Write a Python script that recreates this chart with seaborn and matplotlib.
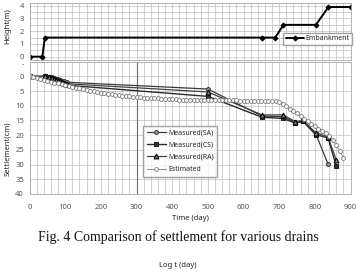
import numpy as np
import pandas as pd
import matplotlib
matplotlib.use("Agg")
import matplotlib.pyplot as plt
import seaborn as sns
from matplotlib.ticker import MultipleLocator, FixedLocator

sns.set_theme(style="white")
plt.rcParams['font.family'] = ['Noto Sans', 'DejaVu Sans']

# --- data ---
emb_days = [0, 36, 43, 652, 689, 712, 803, 838, 900]
emb_height = [0, 0, 1.5, 1.5, 1.5, 2.5, 2.5, 3.9, 3.9]

sa_days = [0, 43, 55, 62, 68, 74, 80, 86, 92, 98, 105, 500, 652, 711, 745, 767, 802, 837]
sa_settle = [0, 0, 0.1, 0.3, 0.5, 0.8, 1.0, 1.3, 1.5, 1.7, 2.0, 4.3, 13.5, 13.7, 15.6, 15.2, 19.4, 29.8]

m_days = [0, 43, 55, 62, 68, 74, 80, 86, 92, 98, 105, 500, 652, 711, 745, 767, 802, 837, 860]
cs_settle = [0, 0, 0.3, 0.6, 0.9, 1.3, 1.6, 2.0, 2.3, 2.6, 3.0, 6.8, 13.9, 14.3, 15.9, 15.3, 19.8, 20.9, 30.5]
ra_settle = [0, 0, 0.2, 0.5, 0.8, 1.1, 1.4, 1.7, 2.0, 2.3, 2.5, 5.3, 13.1, 13.1, 15.4, 15.0, 19.1, 20.6, 28.4]

est_days = [0, 10, 20, 30, 40, 50, 60, 70, 80, 90,
            100, 110, 120, 130, 140, 150, 160, 170, 180, 190,
            200, 210, 220, 230, 240, 250, 260, 270, 280, 290,
            300, 310, 320, 330, 340, 350, 360, 370, 380, 390,
            400, 410, 420, 430, 440, 450, 460, 470, 480, 490,
            500, 510, 520, 530, 540, 550, 560, 570, 580, 590,
            600, 610, 620, 630, 640, 650, 660, 670, 680, 690,
            700, 710, 720, 730, 740, 750, 760, 770, 780, 790,
            800, 810, 820, 830, 840, 850, 860, 870, 880]
est_settle = [0.0, 0.3, 0.6, 0.9, 1.2, 1.5, 1.8, 2.1, 2.4, 2.7,
              2.9, 3.2, 3.5, 3.8, 4.1, 4.4, 4.7, 4.9, 5.1, 5.3,
              5.5, 5.7, 5.9, 6.1, 6.3, 6.4, 6.6, 6.7, 6.8, 6.9,
              7.0, 7.1, 7.2, 7.3, 7.4, 7.5, 7.5, 7.6, 7.7, 7.7,
              7.8, 7.8, 7.9, 7.9, 7.9, 8.0, 8.0, 8.0, 8.1, 8.1,
              8.1, 8.1, 8.2, 8.2, 8.2, 8.2, 8.2, 8.2, 8.2, 8.3,
              8.3, 8.3, 8.3, 8.3, 8.3, 8.3, 8.3, 8.4, 8.4, 8.5,
              8.8, 9.4, 10.2, 11.0, 11.8, 12.6, 13.5, 14.4, 15.3, 16.1,
              17.0, 17.8, 18.6, 19.4, 20.2, 21.5, 23.3, 25.4, 27.6]

TICK_COLOR = '#555555'
GRID_COLOR = '#bdbdbd'

fig = plt.figure(figsize=(3.56, 2.79), dpi=100)
ax_top = fig.add_axes([0.0829, 0.7832, 0.9017, 0.2053])
ax_bot = fig.add_axes([0.0829, 0.3047, 0.9017, 0.4742])

# --- top: embankment height ---
sns.lineplot(x=emb_days, y=emb_height, ax=ax_top, color='black', lw=1.4,
             marker='D', markersize=2.5, markeredgecolor='black', label='Embankment')
ax_top.set_xlim(0, 900)
ax_top.set_ylim(-0.3, 4.2)
ax_top.yaxis.set_major_locator(FixedLocator([0, 1, 2, 3, 4]))
ax_top.yaxis.set_minor_locator(MultipleLocator(0.5))
ax_top.xaxis.set_major_locator(MultipleLocator(100))
ax_top.xaxis.set_minor_locator(MultipleLocator(20))
ax_top.set_xticklabels([])
ax_top.legend(loc='upper right', bbox_to_anchor=(1.005, 0.48), fontsize=5,
              frameon=True, fancybox=False, edgecolor='#8a8a8a', borderpad=0.35,
              handlelength=2.6, handletextpad=0.3, borderaxespad=0)

# --- bottom: settlement ---
sns.lineplot(x=sa_days, y=sa_settle, ax=ax_bot, color='#3a3a3a', lw=0.9,
             marker='o', markersize=2.8, markerfacecolor='#9a9a9a',
             markeredgecolor='#3a3a3a', label='Measured(SA)')
sns.lineplot(x=m_days, y=cs_settle, ax=ax_bot, color='#2a2a2a', lw=1.0,
             marker='s', markersize=3, markerfacecolor='#303030',
             markeredgecolor='#202020', label='Measured(CS)')
sns.lineplot(x=m_days, y=ra_settle, ax=ax_bot, color='#404040', lw=0.9,
             marker='^', markersize=3.5, markerfacecolor='#808080',
             markeredgecolor='black', label='Measured(RA)')
sns.lineplot(x=est_days, y=est_settle, ax=ax_bot, color='#8c8c8c', lw=0.7,
             marker='o', markersize=2.8, markerfacecolor='white',
             markeredgecolor='#7a7a7a', markeredgewidth=0.6, label='Estimated')

ax_bot.set_xlim(0, 900)
ax_bot.set_ylim(40, -5)
ax_bot.yaxis.set_major_locator(FixedLocator([-5, 0, 5, 10, 15, 20, 25, 30, 35, 40]))
ax_bot.set_yticklabels(['-', '0', '5', '10', '15', '20', '25', '30', '35', '40'])
ax_bot.xaxis.set_major_locator(MultipleLocator(100))
ax_bot.xaxis.set_minor_locator(MultipleLocator(20))
ax_bot.axvline(300, color='#6a6a6a', lw=0.8, zorder=1)
ax_bot.legend(loc='upper left', bbox_to_anchor=(0.354, 0.514), fontsize=5,
              frameon=True, fancybox=False, edgecolor='#8a8a8a', borderpad=0.5,
              labelspacing=0.75, handlelength=2.8, handletextpad=0.3, borderaxespad=0)
ax_bot.set_xlabel("Time (day)", fontsize=5.5, fontweight='bold', color='#222222', labelpad=3)

for ax in (ax_top, ax_bot):
    ax.set_ylabel("")
    ax.grid(True, which='both', color=GRID_COLOR, lw=0.5)
    ax.set_axisbelow(True)
    ax.tick_params(which='both', length=0, labelsize=5.5, colors=TICK_COLOR)
    ax.tick_params(axis='y', pad=4)
    ax.tick_params(axis='x', pad=7)
    for s in ax.spines.values():
        s.set_color('#a8a8a8')
        s.set_linewidth(0.6)

# the "-" label sits right under the top panel's 0; hang it below its tick
dash_label = ax_bot.get_yticklabels()[0]
dash_label.set_verticalalignment('top')
dash_label.set_fontsize(5)

fig.text(0.022, 0.905, "Height(m)", rotation=90, fontsize=5.5, fontweight='bold',
         color='#222222', ha='center', va='center')
fig.text(0.022, 0.466, "Settlement(cm)", rotation=90, fontsize=5.5, fontweight='bold',
         color='#222222', ha='center', va='center')

fig.text(0.5, 0.15, "Fig. 4 Comparison of settlement for various drains",
         family='Liberation Serif', fontsize=10, color='#111111', ha='center', va='center')
fig.text(0.5, 0.05, "Log t (day)", fontsize=5.5, fontweight='bold',
         color='#222222', ha='center', va='center')

fig.savefig("out.png", dpi=100, facecolor='white')
